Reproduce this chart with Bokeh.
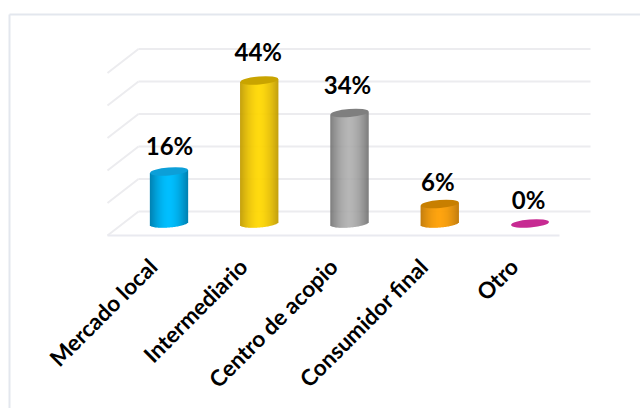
import math
from bokeh.core.properties import value
from bokeh.embed import file_html
from bokeh.models import ColumnDataSource
from bokeh.plotting import figure
from bokeh.resources import INLINE

# Chart data
categories = ["Mercado local", "Intermediario", "Centro de acopio", "Consumidor final", "Otro"]
shares = [16, 44, 34, 6, 0]
wall_ticks = [0, 10, 20, 30, 40, 50]

# Cylinder styling: centre shade, edge shade, lid shade
centre_colors = ["#00BFFF", "#FFD700", "#ACACAC", "#FF9F00", "#C72A92"]
edge_colors = ["#0080B0", "#C09A00", "#6C6C6C", "#BF7600", "#C72A92"]
lid_colors = ["#0C9FD8", "#C9A400", "#7F7F7F", "#C87F00", "#C72A92"]

# Layout
W, H = 640, 408
PX_PER_UNIT = 3.25      # vertical pixels per percentage point
X_STEP = 90.25          # horizontal pixels between categories
X_FIRST = 168.5         # pixel position of the first category
BASE_PX = 223           # pixel row of the zero level at the cylinder axis
RADIUS = 19             # cylinder half width, px
LID = 4.0               # lid half height, px
TILT = 0.08             # rise of the lids, px per px
DEPTH_X, DEPTH_Y = 31, 24

value_dx = [0.5, -1, -2, -2, -1.5]
value_dy = [26, 29, 28.5, 22.5, 24]

def px_x(dx):
    return dx / X_STEP

def px_y(dy):
    return dy / PX_PER_UNIT

p = figure(
    width=W, height=H, output_backend="svg", toolbar_location=None,
    x_range=(-X_FIRST / X_STEP, (W - X_FIRST) / X_STEP),
    y_range=(-(H - BASE_PX) / PX_PER_UNIT, BASE_PX / PX_PER_UNIT),
    min_border=0, outline_line_color=None, background_fill_color="white",
)
p.axis.visible = False
p.grid.visible = False

# Thin frame along the top and left of the chart area
frame_x = px_x(9 - X_FIRST)
frame_y = px_y(BASE_PX - 14)
p.segment(x0=[frame_x, frame_x], x1=[px_x(W - X_FIRST), frame_x],
          y0=[frame_y, frame_y], y1=[frame_y, px_y(BASE_PX - H)],
          line_color="#E3E7EE", line_width=2)

# Back wall, side wall and floor of the 3-D box
wall_y = px_y(BASE_PX - 211)
wall_left = px_x(138 - X_FIRST)
wall_right = px_x(590 - X_FIRST)
grid_color = "#ECECEF"
p.segment(x0=[wall_left] * len(wall_ticks), x1=[wall_right] * len(wall_ticks),
          y0=[t + wall_y for t in wall_ticks], y1=[t + wall_y for t in wall_ticks],
          line_color=grid_color, line_width=2)
p.segment(x0=[wall_left] * len(wall_ticks), x1=[wall_left - px_x(DEPTH_X)] * len(wall_ticks),
          y0=[t + wall_y for t in wall_ticks],
          y1=[t + wall_y - px_y(DEPTH_Y) for t in wall_ticks],
          line_color=grid_color, line_width=2)
floor_y = wall_y - px_y(DEPTH_Y)
p.segment(x0=[wall_left - px_x(DEPTH_X)], x1=[wall_right - px_x(DEPTH_X)],
          y0=[floor_y], y1=[floor_y], line_color="#E9EAF0", line_width=2)


def mix(a, b, t):
    ca = [int(a[i:i + 2], 16) for i in (1, 3, 5)]
    cb = [int(b[i:i + 2], 16) for i in (1, 3, 5)]
    return "#%02X%02X%02X" % tuple(round(x + (y - x) * t) for x, y in zip(ca, cb))


# Cylinder bodies as thin vertical strips with a horizontal shade
for i, share in enumerate(shares):
    if share == 0:
        continue
    left, right, top, bottom, colors = [], [], [], [], []
    n = RADIUS * 2
    for k in range(n):
        dx = k + 0.5 - RADIUS
        f = abs(dx) / RADIUS
        rise = dx * TILT
        sag = LID * math.sqrt(max(0.0, 1 - f * f))
        left.append(i + px_x(dx - 0.65))
        right.append(i + px_x(dx + 0.65))
        top.append(share + px_y(rise))
        bottom.append(px_y(rise - sag))
        colors.append(mix(centre_colors[i], edge_colors[i], f ** 1.7))
    src = ColumnDataSource(dict(left=left, right=right, top=top, bottom=bottom, color=colors))
    p.quad(left="left", right="right", top="top", bottom="bottom", source=src,
           fill_color="color", line_color=None)

# Lids; a zero share shows only the flat disc
p.ellipse(x=list(range(len(shares))), y=shares, width=RADIUS * 2, height=LID * 2,
          width_units="screen", height_units="screen",
          angle=math.atan(TILT), fill_color=lid_colors, line_color=None)

# Share labels above each cylinder
p.text(x=list(range(len(shares))), y=shares, text=[f"{s}%" for s in shares],
       x_offset=value_dx, y_offset=[-d for d in value_dy],
       text_align="center", text_baseline="alphabetic",
       text_font=value("Lato"), text_font_style="bold", text_font_size="24px",
       text_color="#000000")

# Slanted category labels
p.text(x=[i + px_x(-16) for i in range(len(categories))],
       y=[px_y(BASE_PX - 262)] * len(categories), text=categories,
       angle=math.radians(45), text_align="right", text_baseline="middle",
       text_font=value("Lato"), text_font_style="bold", text_font_size="22.5px",
       text_color="#000000")

open("out.html", "w").write(file_html(p, INLINE))
